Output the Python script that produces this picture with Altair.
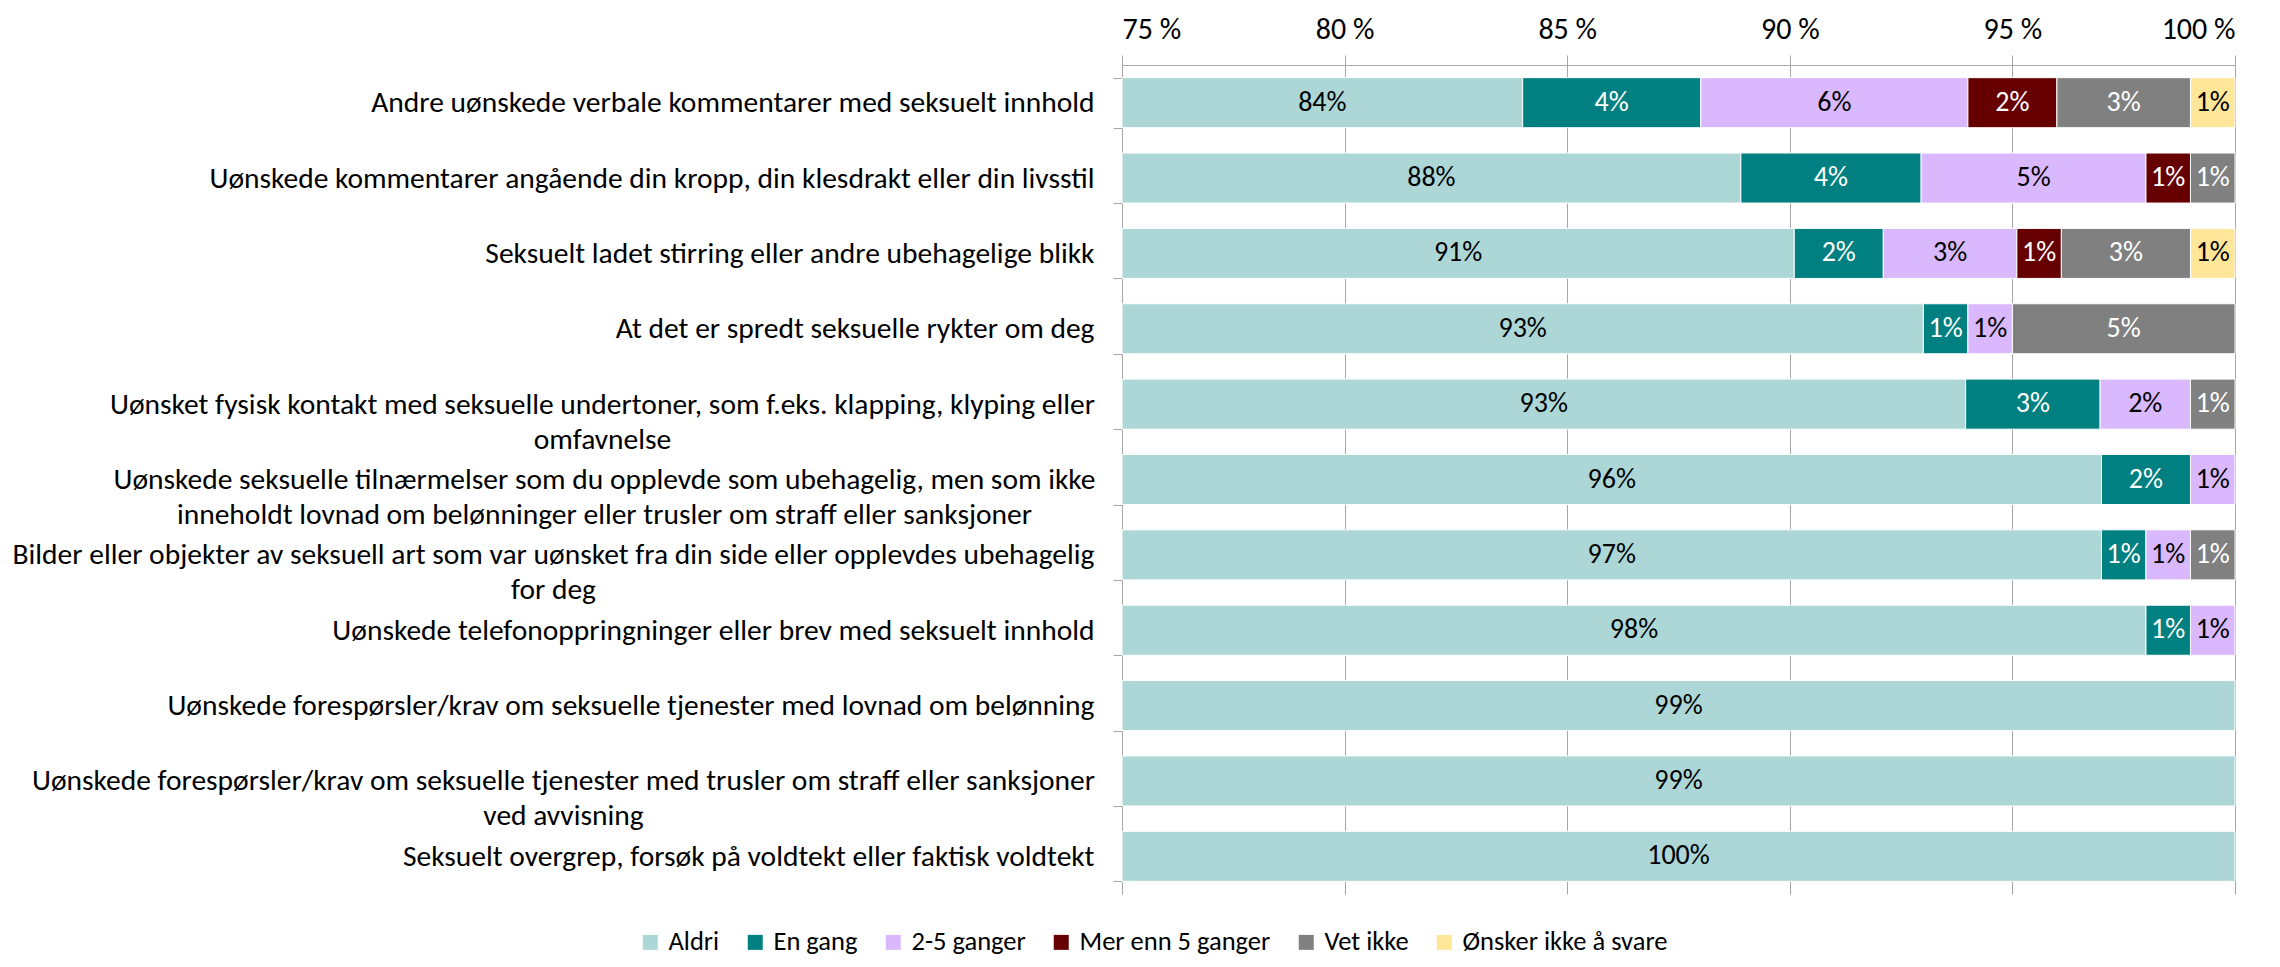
import altair as alt
import pandas as pd

rows = [
    "Andre uønskede verbale kommentarer med seksuelt innhold\u00a0",
    "Uønskede kommentarer angående din kropp, din klesdrakt eller din livsstil",
    "Seksuelt ladet stirring eller andre ubehagelige blikk",
    "At det er spredt seksuelle rykter om deg",
    "Uønsket fysisk kontakt med seksuelle undertoner, som f.eks. klapping, klyping eller\nomfavnelse",
    "Uønskede seksuelle tilnærmelser som du opplevde som ubehagelig, men som ikke\ninneholdt lovnad om belønninger eller trusler om straff eller sanksjoner",
    "Bilder eller objekter av seksuell art som var uønsket fra din side eller opplevdes ubehagelig\nfor deg",
    "Uønskede telefonoppringninger eller brev med seksuelt innhold",
    "Uønskede forespørsler/krav om seksuelle tjenester med lovnad om belønning",
    "Uønskede forespørsler/krav om seksuelle tjenester med trusler om straff eller sanksjoner\nved avvisning",
    "Seksuelt overgrep, forsøk på voldtekt eller faktisk voldtekt",
]

series = ["Aldri", "En gang", "2-5 ganger", "Mer enn 5 ganger", "Vet ikke", "Ønsker ikke å svare"]
colors = ["#ACD7D6", "#008080", "#DAB8FD", "#660000", "#808080", "#FFE699"]
text_colors = ["#000000", "#FFFFFF", "#000000", "#FFFFFF", "#FFFFFF", "#000000"]

aldri = [84.0, 88.9, 90.1, 93.0, 93.95, 97.0, 97.0, 98.0, 100.0, 100.0, 100.0]
en_gang = [4.0, 4.05, 2.0, 1.0, 3.02, 2.0, 1.0, 1.0, 0, 0, 0]
to_fem = [6.0, 5.05, 3.0, 1.0, 2.03, 1.0, 1.0, 1.0, 0, 0, 0]
mer_enn_5 = [2.0, 1.0, 1.0, 0, 0, 0, 0, 0, 0, 0, 0]
vet_ikke = [3.0, 1.0, 2.9, 5.0, 1.0, 0, 1.0, 0, 0, 0, 0]
onsker_ikke = [1.0, 0, 1.0, 0, 0, 0, 0, 0, 0, 0, 0]

# Printed labels (as shown in the chart)
aldri_labels = [84, 88, 91, 93, 93, 96, 97, 98, 99, 99, 100]
en_gang_labels = [4, 4, 2, 1, 3, 2, 1, 1, 0, 0, 0]
to_fem_labels = [6, 5, 3, 1, 2, 1, 1, 1, 0, 0, 0]
mer_enn_5_labels = [2, 1, 1, 0, 0, 0, 0, 0, 0, 0, 0]
vet_ikke_labels = [3, 1, 3, 5, 1, 0, 1, 0, 0, 0, 0]
onsker_ikke_labels = [1, 0, 1, 0, 0, 0, 0, 0, 0, 0, 0]

x_ticks = [75, 80, 85, 90, 95, 100]
x_min, x_max = 75, 100

values = [aldri, en_gang, to_fem, mer_enn_5, vet_ikke, onsker_ikke]
labels = [aldri_labels, en_gang_labels, to_fem_labels, mer_enn_5_labels, vet_ikke_labels, onsker_ikke_labels]

records = []
for r, row in enumerate(rows):
    cum = 0.0
    for s, name in enumerate(series):
        v = values[s][r]
        start, end = cum, min(cum + v, x_max)
        cum += v
        if v <= 0:
            continue
        vis_start = max(start, x_min)
        records.append({
            "row": row,
            "series": name,
            "start": vis_start,
            "end": end,
            "mid": (vis_start + end) / 2,
            "label": f"{labels[s][r]}%",
            "tcolor": text_colors[s],
        })
df = pd.DataFrame(records)

FONT = "Carlito, Lato, sans-serif"
GRID = "#A6A6A6"

# Two-line category labels are centred under their first line (Excel style):
# (distinctive text fragment, padding from the tick to the centre of the text block)
centred_labels = [
    ("fysisk kontakt", 511),
    ("tilnærmelser", 509),
    ("Bilder eller", 560),
    ("ved avvisning", 550),
]
pad_conditions = [
    {"test": f"indexof(datum.label, '{frag}') >= 0", "value": pad}
    for frag, pad in centred_labels
]

y_enc = alt.Y(
    "row:N",
    sort=rows,
    scale=alt.Scale(paddingInner=0.336, paddingOuter=0.168),
    axis=alt.Axis(
        title=None,
        labelExpr="split(datum.label, '\\n')",
        labelFont=FONT,
        labelFontSize=29.5,
        labelColor="#000000",
        labelLimit=1200,
        labelLineHeight=35,
        labelAlign={
            "condition": {"test": "indexof(datum.label, '\\n') >= 0", "value": "center"},
            "value": "right",
        },
        labelPadding={"condition": pad_conditions, "value": 19},
        tickBand="extent",
        tickSize=9,
        tickColor=GRID,
        domainColor=GRID,
        grid=False,
    ),
)

bars = alt.Chart(df).mark_bar(stroke="#FFFFFF", strokeWidth=1).encode(
    x=alt.X(
        "start:Q",
        scale=alt.Scale(domain=[x_min, x_max], nice=False, zero=False),
        axis=alt.Axis(
            orient="top",
            title=None,
            values=x_ticks,
            labelExpr="datum.value + ' %'",
            labelFont=FONT,
            labelFontSize=30,
            labelColor="#000000",
            labelPadding=11,
            grid=True,
            gridColor=GRID,
            tickColor=GRID,
            tickSize=10,
            domainColor=GRID,
        ),
    ),
    x2="end:Q",
    y=y_enc,
    color=alt.Color(
        "series:N",
        sort=series,
        scale=alt.Scale(domain=series, range=colors),
        legend=alt.Legend(
            title=None,
            orient="none",
            direction="horizontal",
            columns=6,
            legendX=-485,
            legendY=864,
            symbolType="square",
            symbolSize=225,
            symbolStrokeWidth=0,
            labelFont=FONT,
            labelFontSize=26.5,
            labelColor="#000000",
            labelOffset=5,
            columnPadding=22,
            labelLimit=400,
        ),
    ),
)

texts = alt.Chart(df).mark_text(font=FONT, fontSize=28, baseline="middle", align="center").encode(
    x=alt.X("mid:Q"),
    y=alt.Y("row:N", sort=rows),
    text="label:N",
    color=alt.Color("tcolor:N", scale=None),
)

chart = alt.layer(bars, texts).properties(
    width=1113,
    height=829,
    autosize=alt.AutoSizeParams(type="none"),
    padding={"left": 1114, "top": 57, "right": 30, "bottom": 65},
).configure_view(stroke=None)

chart.save("out.html", embed_options={"renderer": "svg", "actions": False})
